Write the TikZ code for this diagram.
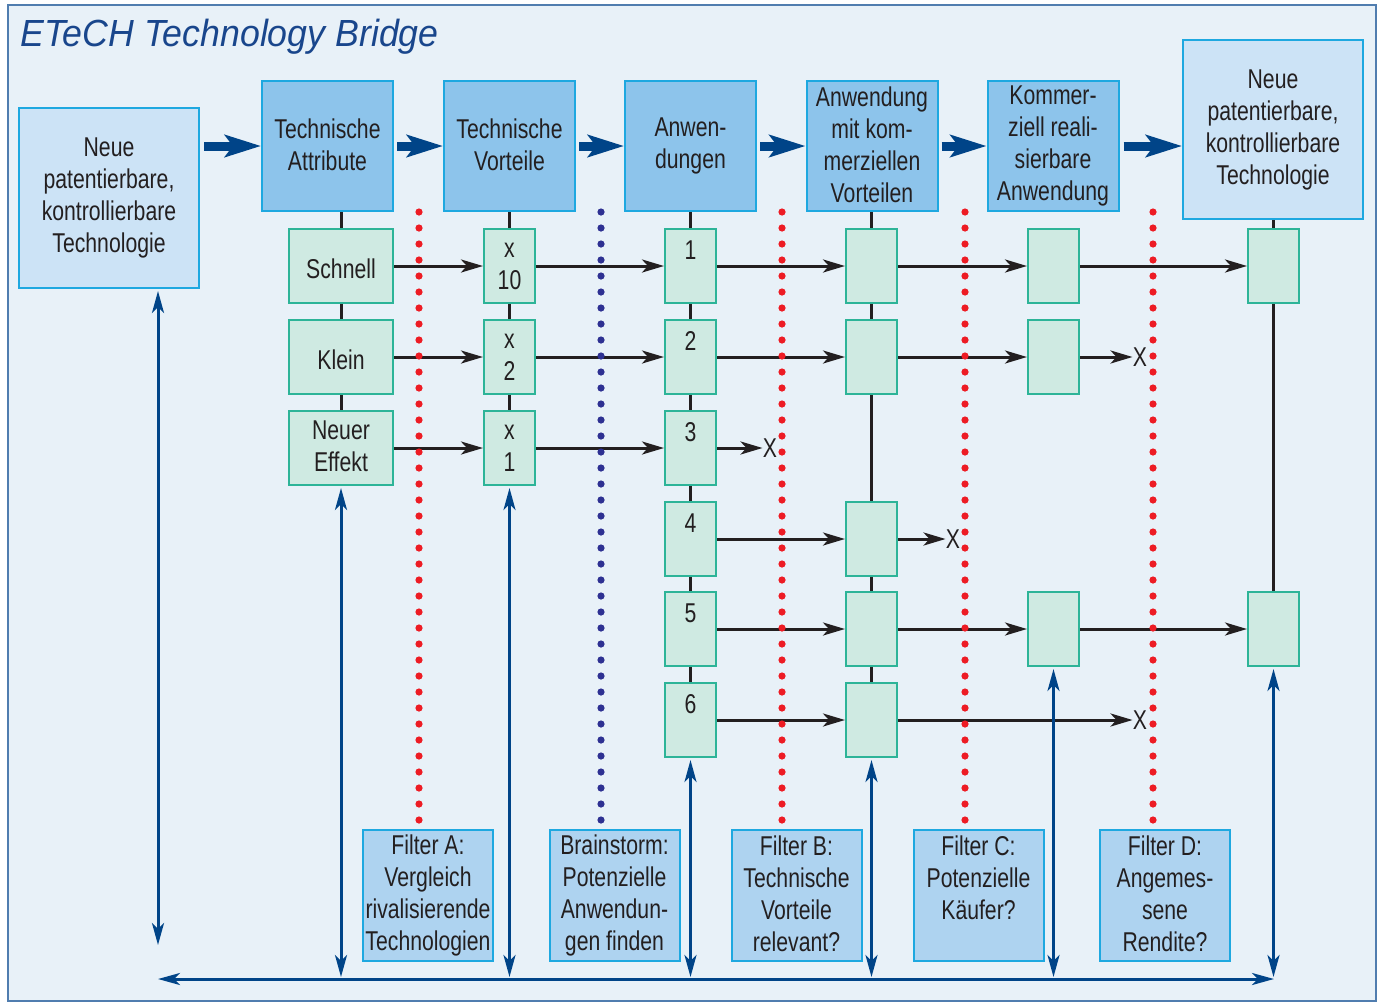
\documentclass[tikz,border=0pt]{standalone}
\usepackage{fontspec}
\setmainfont[FakeStretch=0.78]{Liberation Sans}
\newfontfamily\titlefont[FakeStretch=0.945]{Liberation Sans}
\usepackage[rgb]{xcolor}
\usepackage{tikz}
\usetikzlibrary{arrows.meta}
\usetikzlibrary{shapes,positioning,calc}
\newcommand{\topstrut}{\rule{0pt}{14pt}}
\newcommand{\botstrut}{\rule[-1.5pt]{0pt}{1.5pt}}

\definecolor{bgblue}{RGB}{232,241,248}
\definecolor{framecol}{RGB}{80,125,175}
\definecolor{topblue}{RGB}{141,196,235}
\definecolor{lightblue}{RGB}{204,227,246}
\definecolor{filterblue}{RGB}{174,211,240}
\definecolor{cyanline}{RGB}{30,168,224}
\definecolor{greenfill}{RGB}{207,234,226}
\definecolor{greenline}{RGB}{45,180,152}
\definecolor{linegray}{RGB}{35,31,32}
\definecolor{arrowblue}{RGB}{0,68,136}
\definecolor{dotred}{RGB}{237,28,36}
\definecolor{dotblue}{RGB}{46,49,146}
\definecolor{titleblue}{RGB}{25,70,140}

\begin{document}
\begin{tikzpicture}[x=0.5pt, y=-0.5pt, font=\fontsize{13.6}{16}\selectfont, text=linegray,
	box/.style={draw=cyanline, line width=1pt, align=center, inner sep=0pt,
		execute at begin node=\topstrut, execute at end node=\botstrut},
	topbox/.style={box, fill=topblue, minimum width=65.5pt, minimum height=65pt},
	techbox/.style={box, fill=lightblue, minimum width=90pt, minimum height=90pt},
	filterbox/.style={box, fill=filterblue, minimum width=65pt, minimum height=65.5pt},
	cell/.style={draw=greenline, fill=greenfill, line width=1pt, align=center, inner sep=0pt, minimum width=25.5pt, minimum height=37pt},
	widecell/.style={cell, execute at begin node=\topstrut, execute at end node=\botstrut, minimum width=52pt},
	stop/.style={inner sep=0pt},
	flow/.style={draw=linegray, line width=1.5pt, -{Stealth[length=11pt,width=6.5pt,inset=3pt]}},
	link/.style={draw=linegray, line width=1.5pt},
	stage/.style={draw=arrowblue, line width=4.5pt, -{Stealth[length=18pt,width=11pt,inset=4pt]}},
	feedback/.style={draw=arrowblue, line width=1.5pt, {Stealth[length=11pt,width=6pt,inset=3pt]}-{Stealth[length=11pt,width=6pt,inset=3pt]}},
	filterdots/.style={line width=3.6pt, line cap=round, dash pattern=on 0pt off 8pt}]

	\useasboundingbox (0,0) rectangle (1381,1002);
	\draw[framecol, fill=bgblue, line width=1pt] (8,5) rectangle (1376,1001);
	\node[anchor=base west, stop, text=titleblue, font=\titlefont\itshape\fontsize{18.9}{22}\selectfont] (title) at (20,46) {ETeCH Technology Bridge};

	% stages
	\node[techbox] (ntl) at (109,198) {Neue\\patentierbare,\\kontrollierbare\\Technologie};
	\node[topbox] (attr) at (327.5,146) {Technische\\Attribute};
	\node[topbox] (vort) at (509.5,146) {Technische\\Vorteile};
	\node[topbox] (anw) at (690.5,146) {Anwen-\\dungen};
	\node[topbox] (komv) at (872,146) {Anwendung\\mit kom-\\merziellen\\Vorteilen};
	\node[topbox] (real) at (1053,146) {Kommer-\\ziell reali-\\sierbare\\Anwendung};
	\node[techbox, minimum height=89.5pt] (ntr) at (1273,129.5) {Neue\\patentierbare,\\kontrollierbare\\Technologie};

	\draw[stage] ($(ntl.east |- attr.west)+(4,0)$) -- (attr.west);
	\draw[stage] ($(attr.east)+(3,0)$) -- (vort.west);
	\draw[stage] ($(vort.east)+(3,0)$) -- (anw.west);
	\draw[stage] ($(anw.east)+(3,0)$) -- (komv.west);
	\draw[stage] ($(komv.east)+(3,0)$) -- (real.west);
	\draw[stage] ($(real.east)+(4,0)$) -- (ntr.west |- real.east);

	% cells
	\node[widecell] (s1) at (341,266) {Schnell};
	\node[widecell] (s2) at (341,357) {Klein};
	\node[widecell] (s3) at (341,448) {Neuer\\Effekt};
	\node[cell] (v1) at (509.5,266) {x\\10};
	\node[cell] (v2) at (509.5,357) {x\\2};
	\node[cell] (v3) at (509.5,448) {x\\1};
	\foreach \i/\y in {1/266,2/357,3/448,4/539,5/629,6/720}
		\node[cell] (a\i) at (690.5,\y) {\i\\~};
	\foreach \i in {1,2,4,5,6}
		\node[cell] (c\i) at (a\i -| 871.5,0) {};
	\foreach \i in {1,2,5}
		\node[cell] (k\i) at (a\i -| 1053.5,0) {};
	\foreach \i in {1,5}
		\node[cell] (r\i) at (a\i -| 1273.5,0) {};

	\node[stop] (xa3) at (770,448) {X};
	\node[stop] (xc4) at (953,539) {X};
	\node[stop] (xk2) at (1140,357) {X};
	\node[stop] (xc6) at (1140,720) {X};

	\foreach \p/\q in {attr/s1, s1/s2, s2/s3, vort/v1, v1/v2, v2/v3, anw/a1, a1/a2, a2/a3, a3/a4, a4/a5, a5/a6,
		komv/c1, c1/c2, c2/c4, c4/c5, c5/c6, ntr/r1, r1/r5}
		\draw[link] (\p.south -| \q.north) -- (\q.north);

	\foreach \p/\q in {s1/v1, v1/a1, a1/c1, c1/k1, k1/r1, s2/v2, v2/a2, a2/c2, c2/k2, k2/xk2,
		s3/v3, v3/a3, a3/xa3, a4/c4, c4/xc4, a5/c5, c5/k5, k5/r5, a6/c6, c6/xc6}
		\draw[flow] (\p) -- (\q);

	% filters
	\node[filterbox] (fa) at (428,895.5) {Filter A:\\Vergleich\\rivalisierende\\Technologien};
	\node[filterbox] (fbs) at (614.5,895.5) {Brainstorm:\\Potenzielle\\Anwendun-\\gen finden};
	\node[filterbox] (fb) at (796.5,895.5) {Filter B:\\Technische\\Vorteile\\relevant?};
	\node[filterbox] (fc) at (978.5,895.5) {Filter C:\\Potenzielle\\Käufer?\\~};
	\node[filterbox] (fd) at (1165,895.5) {Filter D:\\Angemes-\\sene\\Rendite?};

	\foreach \x/\c in {419/dotred, 601/dotblue, 782/dotred, 965/dotred, 1153/dotred}
		\draw[filterdots, \c] (\x,212) -- (\x,820);

	% feedback
	\coordinate (fl) at (158,945);
	\coordinate (bl) at (158,979);
	\coordinate (br) at (1274,979);
	\draw[feedback, shorten <=1pt] (ntl.south -| fl) -- (fl);
	\draw[feedback] (bl) -- (br);
	\foreach \n in {s3, v3, a6, c6, k5, r5}
		\draw[feedback, shorten <=1pt, shorten >=1pt] (\n.south) -- (\n.south |- bl);
\end{tikzpicture}
\end{document}
